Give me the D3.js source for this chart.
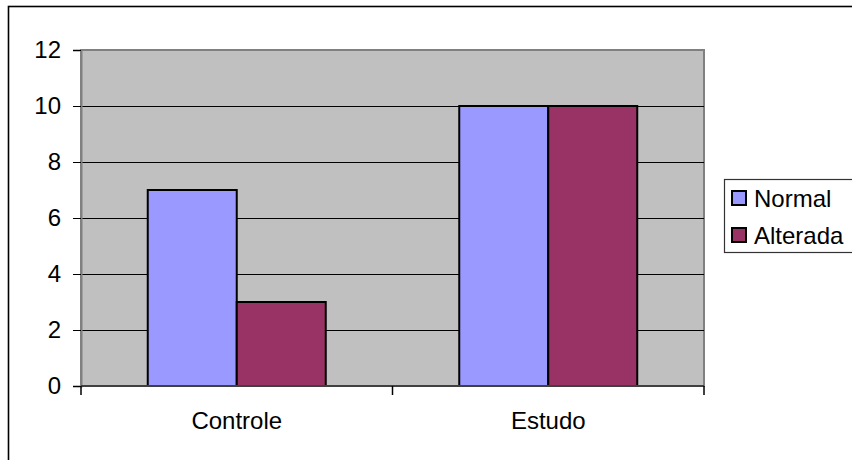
<!DOCTYPE html>
<html>
<head>
<meta charset="utf-8">
<script src="https://cdn.jsdelivr.net/npm/d3@7"></script>
<style>
  html, body { margin: 0; padding: 0; background: #fff; }
  svg { display: block; }
  text { font-family: "Liberation Sans", Arial, sans-serif; fill: #000; }
</style>
</head>
<body>
<svg id="chart" width="852" height="460"></svg>
<script>
// Chart data
const categories = ["Controle", "Estudo"];
const seriesNames = ["Normal", "Alterada"];
const normalValues = [7, 10];
const alteradaValues = [3, 10];
const yTicks = [0, 2, 4, 6, 8, 10, 12];
const seriesColors = ["#9999FF", "#993366"];

const seriesValues = [normalValues, alteradaValues];

const svg = d3.select("#chart");
const plot = { left: 81, top: 50, right: 704, bottom: 386 };
const fontSize = "24px";

// Outer chart frame (extends past the right and bottom edges)
svg.append("rect")
  .attr("x", 8.5).attr("y", 6.5)
  .attr("width", 900).attr("height", 500)
  .attr("fill", "#fff")
  .attr("stroke", "#000").attr("stroke-width", 1.6);

const x0 = d3.scaleBand().domain(categories).range([plot.left, plot.right]).padding(0);
const x1 = d3.scaleBand().domain(seriesNames).range([0, x0.bandwidth()])
  .paddingInner(0).paddingOuter(0.75);
const y = d3.scaleLinear().domain([0, 12]).range([plot.bottom, plot.top]);

// Plot area background
svg.append("rect")
  .attr("x", plot.left).attr("y", plot.top)
  .attr("width", plot.right - plot.left).attr("height", plot.bottom - plot.top)
  .attr("fill", "#C0C0C0")
  .attr("stroke", "#808080").attr("stroke-width", 2);

// Gridlines
svg.append("g")
  .selectAll("line")
  .data(yTicks.filter(t => t > 0 && t < 12))
  .join("line")
  .attr("x1", plot.left).attr("x2", plot.right)
  .attr("y1", d => Math.round(y(d)) + 0.5).attr("y2", d => Math.round(y(d)) + 0.5)
  .attr("stroke", "#000").attr("stroke-width", 1);

// Bars
const groups = svg.append("g")
  .selectAll("g")
  .data(categories)
  .join("g")
  .attr("transform", d => `translate(${x0(d)},0)`);

groups.selectAll("rect")
  .data((c, ci) => seriesNames.map((s, si) => ({ s, si, v: seriesValues[si][ci] })))
  .join("rect")
  .attr("x", d => x1(d.s))
  .attr("y", d => y(d.v))
  .attr("width", x1.bandwidth())
  .attr("height", d => y(0) - y(d.v))
  .attr("fill", d => seriesColors[d.si])
  .attr("stroke", "#000").attr("stroke-width", 2);

// Y axis
const yAxis = d3.axisLeft(y).tickValues(yTicks).tickSize(8).tickPadding(12)
  .tickFormat(d3.format("d"));
const yg = svg.append("g").attr("transform", `translate(${plot.left},0)`).call(yAxis);
yg.select(".domain").attr("stroke", "#808080").attr("stroke-width", 2);
yg.selectAll(".tick line").attr("stroke", "#000");
yg.selectAll(".tick text").style("font-size", fontSize).attr("fill", "#000");

// X axis
svg.append("line")
  .attr("x1", plot.left).attr("x2", plot.right)
  .attr("y1", plot.bottom).attr("y2", plot.bottom)
  .attr("stroke", "#404040").attr("stroke-width", 2);

const boundaries = [plot.left, x0("Estudo"), plot.right];
svg.append("g").selectAll("line")
  .data(boundaries)
  .join("line")
  .attr("x1", d => d).attr("x2", d => d)
  .attr("y1", plot.bottom).attr("y2", plot.bottom + 9)
  .attr("stroke", "#000").attr("stroke-width", 1.5);

svg.append("g").selectAll("text")
  .data(categories)
  .join("text")
  .attr("x", d => x0(d) + x0.bandwidth() / 2)
  .attr("y", 429)
  .attr("text-anchor", "middle")
  .style("font-size", fontSize)
  .text(d => d);

// Legend
const legend = svg.append("g");
legend.append("rect")
  .attr("x", 724.5).attr("y", 179.5)
  .attr("width", 200).attr("height", 73)
  .attr("fill", "#fff")
  .attr("stroke", "#333").attr("stroke-width", 1.2);

const rows = legend.selectAll("g.row")
  .data(seriesNames)
  .join("g")
  .attr("class", "row")
  .attr("transform", (d, i) => `translate(0,${198 + i * 37})`);

rows.append("rect")
  .attr("x", 732).attr("y", -7)
  .attr("width", 14).attr("height", 14)
  .attr("fill", (d, i) => seriesColors[i])
  .attr("stroke", "#000").attr("stroke-width", 2);

rows.append("text")
  .attr("x", 754).attr("y", 8.5)
  .style("font-size", fontSize)
  .text(d => d);
</script>
</body>
</html>
